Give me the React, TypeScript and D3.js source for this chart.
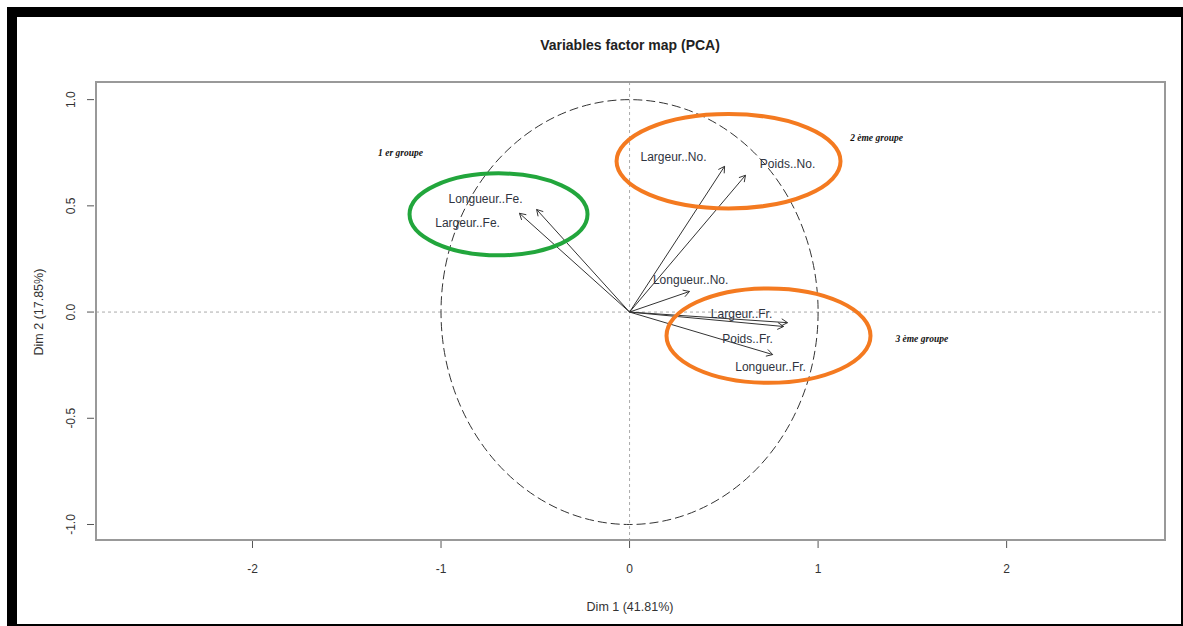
import React from "react";
import { scaleLinear } from "d3";

// PCA variable coordinates (Dim 1, Dim 2)
const variables = ["Largeur..Fe.", "Longueur..Fe.", "Largeur..No.", "Poids..No.", "Longueur..No.", "Largeur..Fr.", "Poids..Fr.", "Longueur..Fr."];
const dim1 = [-0.584, -0.493, 0.504, 0.615, 0.318, 0.838, 0.817, 0.759];
const dim2 = [0.465, 0.483, 0.686, 0.644, 0.097, -0.05, -0.068, -0.2];
// where each label sits (data units)
const labelX = [-0.859, -0.764, 0.233, 0.838, 0.324, 0.594, 0.626, 0.748];
const labelY = [0.422, 0.531, 0.733, 0.696, 0.153, -0.007, -0.125, -0.257];

// hand drawn group annotations
const groupNames = ["1 er groupe", "2 ème groupe", "3 ème groupe"];
const groupTextX = [-1.215, 1.31, 1.55];
const groupTextY = [0.75, 0.82, -0.125];
const groupCx = [-0.695, 0.525, 0.737];
const groupCy = [0.46, 0.71, -0.111];
const groupRx = [0.472, 0.594, 0.541];
const groupRy = [0.193, 0.222, 0.222];
const groupColors = ["#22a63c", "#f47a20", "#f47a20"];

const xTicks = [-2, -1, 0, 1, 2];
const yTicks = [-1.0, -0.5, 0.0, 0.5, 1.0];

const W = 1183;
const H = 626;

export default function App() {
  const left = 96, right = 1165, top = 82, bottom = 540;
  const x = scaleLinear().domain([-2.83, 2.84]).range([left, right]);
  const y = scaleLinear().domain([-1.073, 1.083]).range([bottom, top]);

  const font = "'Liberation Sans', Arial, sans-serif";

  const arrow = (i: number) => {
    const x0 = x(0), y0 = y(0);
    const x1 = x(dim1[i]), y1 = y(dim2[i]);
    const a = Math.atan2(y1 - y0, x1 - x0);
    const len = 7, spread = Math.PI / 6;
    const h1 = [x1 - len * Math.cos(a - spread), y1 - len * Math.sin(a - spread)];
    const h2 = [x1 - len * Math.cos(a + spread), y1 - len * Math.sin(a + spread)];
    return (
      <g key={i} stroke="#333" strokeWidth={1} fill="none">
        <line x1={x0} y1={y0} x2={x1} y2={y1} />
        <path d={`M${h1[0]},${h1[1]}L${x1},${y1}L${h2[0]},${h2[1]}`} />
      </g>
    );
  };

  return (
    <div style={{ position: "absolute", left: 0, top: 0 }}>
      <svg width={W} height={H} style={{ display: "block", background: "#fff" }}>
        {/* black frame of the screenshot */}
        <rect x={7} y={7} width={W - 7} height={10} fill="#000" />
        <rect x={7} y={7} width={10} height={H - 7} fill="#000" />
        <rect x={W - 2} y={7} width={2} height={H - 7} fill="#000" />
        <rect x={7} y={H - 2} width={W - 7} height={2} fill="#000" />

        <text x={630} y={50} textAnchor="middle" fontFamily={font} fontWeight="bold" fontSize={14} fill="#222">
          Variables factor map (PCA)
        </text>

        {/* reference lines at 0 */}
        <line x1={left} x2={right} y1={y(0)} y2={y(0)} stroke="#aaa" strokeDasharray="3,3" />
        <line x1={x(0)} x2={x(0)} y1={top} y2={bottom} stroke="#aaa" strokeDasharray="3,3" />

        {/* correlation circle */}
        <ellipse cx={x(0)} cy={y(0)} rx={x(1) - x(0)} ry={y(0) - y(1)} fill="none" stroke="#333" strokeWidth={1} strokeDasharray="9,4" />

        {variables.map((_, i) => arrow(i))}

        {variables.map((v, i) => (
          <text key={v} x={x(labelX[i])} y={y(labelY[i])} dy="0.35em" textAnchor="middle" fontFamily={font} fontSize={12} fill="#2f3440">
            {v}
          </text>
        ))}

        {groupNames.map((g, i) => (
          <g key={g}>
            <ellipse cx={x(groupCx[i])} cy={y(groupCy[i])} rx={x(groupRx[i]) - x(0)} ry={y(0) - y(groupRy[i])} fill="none" stroke={groupColors[i]} strokeWidth={4} />
            <text x={x(groupTextX[i])} y={y(groupTextY[i])} dy="0.35em" textAnchor="middle" fontFamily="'Liberation Serif', 'Times New Roman', serif" fontStyle="italic" fontWeight="bold" fontSize={9.5} fill="#111">
              {g}
            </text>
          </g>
        ))}

        {/* plot box */}
        <rect x={left} y={top} width={right - left} height={bottom - top} fill="none" stroke="#999" strokeWidth={2} />

        {/* x axis */}
        {xTicks.map((t) => (
          <g key={t}>
            <line x1={x(t)} x2={x(t)} y1={bottom + 1} y2={bottom + 8} stroke="#555" />
            <text x={x(t)} y={569} dy="0.35em" textAnchor="middle" fontFamily={font} fontSize={12} fill="#333">
              {t}
            </text>
          </g>
        ))}
        <text x={630} y={607} dy="0.35em" textAnchor="middle" fontFamily={font} fontSize={12.5} fill="#333">
          Dim 1 (41.81%)
        </text>

        {/* y axis */}
        {yTicks.map((t) => (
          <g key={t}>
            <line x1={left - 9} x2={left - 2} y1={y(t)} y2={y(t)} stroke="#555" />
            <text transform={`translate(71,${y(t)}) rotate(-90)`} dy="0.35em" textAnchor="middle" fontFamily={font} fontSize={12} fill="#333">
              {t.toFixed(1)}
            </text>
          </g>
        ))}
        <text transform={`translate(39,${y(0)}) rotate(-90)`} dy="0.35em" textAnchor="middle" fontFamily={font} fontSize={12.5} fill="#333">
          Dim 2 (17.85%)
        </text>
      </svg>
    </div>
  );
}
